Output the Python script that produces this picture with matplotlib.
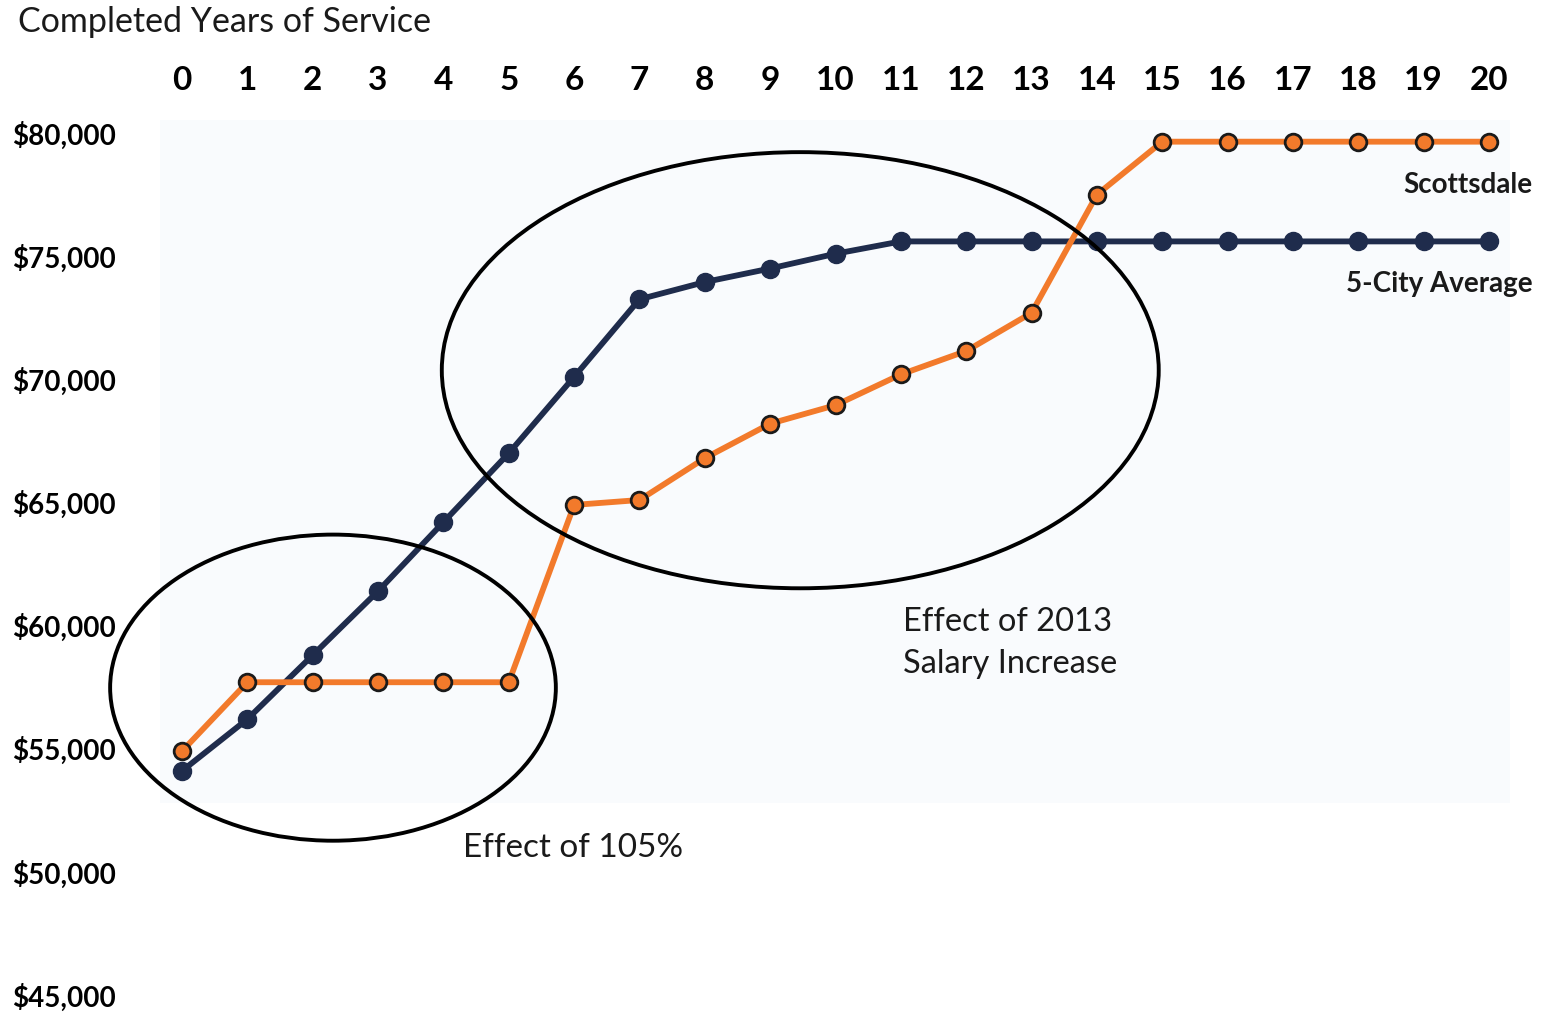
import matplotlib
matplotlib.use("Agg")
import matplotlib.pyplot as plt
from matplotlib.patches import Ellipse, Rectangle

plt.rcParams['font.family'] = ['Lato', 'DejaVu Sans']

# years of service and salaries
years = list(range(21))
five_city = [54100, 56200, 58800, 61400, 64200, 67000, 70100, 73250, 73950,
             74500, 75100, 75600, 75600, 75600, 75600, 75600, 75600, 75600,
             75600, 75600, 75600]
scottsdale = [54900, 57700, 57700, 57700, 57700, 57700, 64900, 65100, 66800,
              68200, 68950, 70200, 71150, 72700, 77500, 79650, 79650, 79650,
              79650, 79650, 79650]
y_ticks = [45000, 50000, 55000, 60000, 65000, 70000, 75000, 80000]

navy = '#1f2c4c'
orange = '#f27a2b'

fig = plt.figure(figsize=(15.44, 10.15), dpi=100)
ax = fig.add_axes([160 / 1544, 20 / 1015, 1350 / 1544, 875 / 1015])
ax.set_xlim(-0.337, 20.32)
ax.set_ylim(45000, 80530)

# faint shaded plot area
ax.add_patch(Rectangle((-0.337, 52800), 20.66, 27730, color='#f9fbfd', zorder=0, lw=0))

ax.plot(years, five_city, color=navy, lw=4.2, marker='o', ms=13,
        mfc=navy, mec=navy, zorder=3)
ax.plot(years, scottsdale, color=orange, lw=4.2, marker='o', ms=12,
        mfc=orange, mec='#1a1a1a', mew=2, zorder=4)

# circles marking the two effects
ax.add_patch(Ellipse((2.31, 57480), 6.82, 12430, fill=False, ec='black', lw=2.8,
                     zorder=5, clip_on=False))
ax.add_patch(Ellipse((9.46, 70370), 10.97, 17710, fill=False, ec='black', lw=2.8,
                     zorder=5, clip_on=False))

ax.xaxis.tick_top()
ax.set_xticks(years)
ax.set_xticklabels([str(y) for y in years], fontsize=24, fontweight='bold')
ax.set_yticks(y_ticks)
ax.set_yticklabels(['${:,}'.format(v) for v in y_ticks], fontsize=20, fontweight='bold')
ax.tick_params(axis='x', length=0, pad=18)
ax.tick_params(axis='y', length=0, pad=32)
for s in ax.spines.values():
    s.set_visible(False)
ax.set_facecolor('white')

fig.text(18 / 1544, 1 - 22 / 1015, 'Completed Years of Service', fontsize=24.5,
         ha='left', va='center', color='#1a1a1a')

ax.text(20.67, 77880, 'Scottsdale', fontsize=20, fontweight='bold', ha='right', va='center',
        color='#1a1a1a', clip_on=False)
ax.text(20.67, 73860, '5-City Average', fontsize=20, fontweight='bold', ha='right', va='center',
        color='#1a1a1a', clip_on=False)
ax.text(4.3, 50980, 'Effect of 105%', fontsize=24, ha='left', va='center', color='#1a1a1a')
ax.text(11.03, 59300, 'Effect of 2013\nSalary Increase', fontsize=23.5, ha='left', va='center',
        color='#1a1a1a', linespacing=1.5)

fig.savefig('out.png', dpi=100)
